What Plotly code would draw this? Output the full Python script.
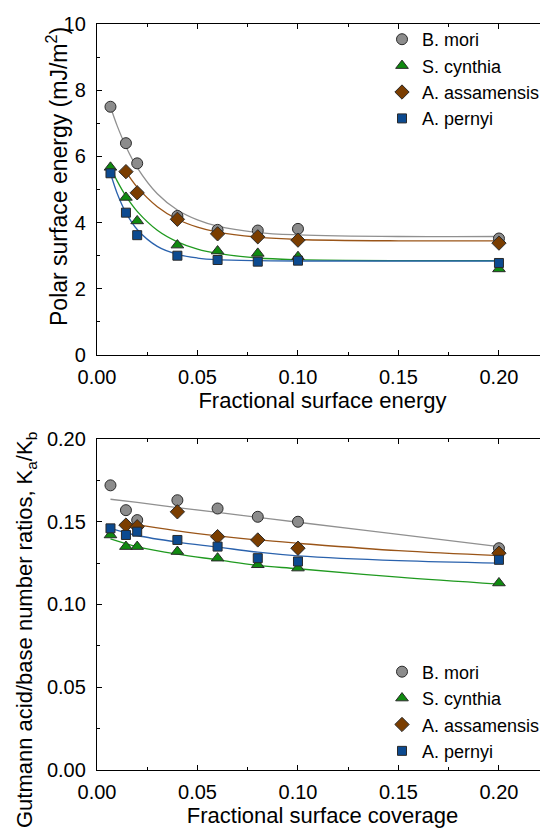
import plotly.graph_objects as go

# ---------------- data ----------------
series_names = ["B. mori", "S. cynthia", "A. assamensis", "A. pernyi"]

x_pts = [0.0067, 0.0144, 0.02, 0.04, 0.06, 0.08, 0.10, 0.20]
x_assam = [0.0144, 0.02, 0.04, 0.06, 0.08, 0.10, 0.20]

# top panel: polar surface energy (mJ/m2)
pse_mori = [7.50, 6.40, 5.79, 4.20, 3.78, 3.76, 3.81, 3.52]
pse_cynthia = [5.67, 4.76, 4.05, 3.32, 3.14, 3.07, 2.97, 2.60]
pse_assam = [5.54, 4.90, 4.10, 3.66, 3.57, 3.47, 3.38]
pse_pernyi = [5.49, 4.30, 3.62, 3.00, 2.87, 2.82, 2.85, 2.78]

# top panel fitted curves
fit_top_x = [0.0067, 0.01, 0.0144, 0.02, 0.03, 0.04, 0.05, 0.06, 0.08, 0.10, 0.15, 0.20]
fit_top_x_assam = [0.0144, 0.02, 0.03, 0.04, 0.05, 0.06, 0.08, 0.10, 0.15, 0.20]
fit_top_mori = [7.50, 6.93, 6.30, 5.66, 4.87, 4.38, 4.08, 3.89, 3.70, 3.63, 3.58, 3.58]
fit_top_cynthia = [5.67, 5.26, 4.80, 4.34, 3.77, 3.42, 3.20, 3.07, 2.93, 2.88, 2.85, 2.85]
fit_top_assam = [5.54, 5.07, 4.48, 4.10, 3.86, 3.71, 3.56, 3.49, 3.45, 3.45]
fit_top_pernyi = [5.49, 4.89, 4.30, 3.79, 3.28, 3.04, 2.93, 2.88, 2.85, 2.84, 2.84, 2.84]

# bottom panel: Gutmann acid/base number ratios Ka/Kb
kab_mori = [0.172, 0.157, 0.151, 0.163, 0.158, 0.153, 0.150, 0.134]
kab_cynthia = [0.142, 0.135, 0.135, 0.132, 0.128, 0.124, 0.122, 0.113]
kab_assam = [0.148, 0.147, 0.156, 0.141, 0.139, 0.134, 0.131]
kab_pernyi = [0.146, 0.142, 0.144, 0.139, 0.135, 0.128, 0.126, 0.127]

# bottom panel fitted curves
fit_bot_x = [0.0067, 0.02, 0.04, 0.06, 0.08, 0.10, 0.15, 0.20]
fit_bot_x_assam = [0.0144, 0.02, 0.04, 0.06, 0.08, 0.10, 0.15, 0.20]
fit_bot_mori = [0.1636, 0.1617, 0.1586, 0.1556, 0.1527, 0.1497, 0.1424, 0.1350]
fit_bot_cynthia = [0.1397, 0.1350, 0.1304, 0.1270, 0.1236, 0.1216, 0.1165, 0.1123]
fit_bot_assam = [0.1495, 0.1482, 0.1445, 0.1415, 0.1390, 0.1370, 0.1325, 0.1295]
fit_bot_pernyi = [0.1460, 0.1417, 0.1377, 0.1347, 0.1316, 0.1294, 0.1265, 0.1250]

x_ticks = [0.00, 0.05, 0.10, 0.15, 0.20]

# ---------------- styles ----------------
FONT = "Arial, Liberation Sans, sans-serif"
marker_fill = ["#8c8c8c", "#108a10", "#7a3d00", "#0c4a90"]
line_col = ["#909090", "#1f9a1f", "#9a5518", "#2a62ad"]
symbols = ["circle", "triangle-up", "diamond", "square"]
sizes = [11, 11, 11, 9]

fig = go.Figure()

top_data = [(x_pts, pse_mori), (x_pts, pse_cynthia), (x_assam, pse_assam), (x_pts, pse_pernyi)]
top_fits = [(fit_top_x, fit_top_mori), (fit_top_x, fit_top_cynthia),
            (fit_top_x_assam, fit_top_assam), (fit_top_x, fit_top_pernyi)]
bot_data = [(x_pts, kab_mori), (x_pts, kab_cynthia), (x_assam, kab_assam), (x_pts, kab_pernyi)]
bot_fits = [(fit_bot_x, fit_bot_mori), (fit_bot_x, fit_bot_cynthia),
            (fit_bot_x_assam, fit_bot_assam), (fit_bot_x, fit_bot_pernyi)]

for i in range(4):
    fig.add_trace(go.Scatter(x=top_fits[i][0], y=top_fits[i][1], mode="lines",
                             line=dict(color=line_col[i], width=1.3, shape="spline"),
                             showlegend=False, hoverinfo="skip", xaxis="x", yaxis="y"))
    fig.add_trace(go.Scatter(x=bot_fits[i][0], y=bot_fits[i][1], mode="lines",
                             line=dict(color=line_col[i], width=1.3, shape="spline"),
                             showlegend=False, hoverinfo="skip", xaxis="x2", yaxis="y2"))

for i in range(4):
    fig.add_trace(go.Scatter(x=top_data[i][0], y=top_data[i][1], mode="markers",
                             name=series_names[i],
                             marker=dict(symbol=symbols[i], size=sizes[i], color=marker_fill[i],
                                         line=dict(color="#2a2a2a", width=1)),
                             xaxis="x", yaxis="y", legend="legend"))
for i in range(4):
    fig.add_trace(go.Scatter(x=bot_data[i][0], y=bot_data[i][1], mode="markers",
                             name=series_names[i],
                             marker=dict(symbol=symbols[i], size=sizes[i], color=marker_fill[i],
                                         line=dict(color="#2a2a2a", width=1)),
                             xaxis="x2", yaxis="y2", legend="legend2"))

xcommon = dict(range=[0, 0.2244], tickvals=x_ticks, tickformat=".2f",
               ticks="inside", ticklen=5, tickwidth=1.2, tickcolor="black",
               showline=True, linecolor="black", linewidth=1.3, mirror="ticks",
               showgrid=False, zeroline=False,
               minor=dict(dtick=0.025, ticks="inside", ticklen=3, tickcolor="black", tickwidth=1),
               tickfont=dict(family=FONT, size=20, color="black"),
               ticklabelstandoff=4)
ycommon = dict(ticks="inside", ticklen=5, tickwidth=1.2, tickcolor="black",
               showline=True, linecolor="black", linewidth=1.3, mirror=False,
               showgrid=False, zeroline=False,
               tickfont=dict(family=FONT, size=20, color="black"),
               ticklabelstandoff=6)

# page body has an 8px margin: the figure is sized so that it fills the 548x830 window
fig.update_layout(
    width=540, height=822,
    margin=dict(l=89, r=0, t=16, b=60),
    plot_bgcolor="white", paper_bgcolor="white",
    font=dict(family=FONT, color="black"),
    xaxis=dict(**xcommon, domain=[0, 1], anchor="y",
               title=dict(text="Fractional surface energy", font=dict(family=FONT, size=22), standoff=5)),
    yaxis=dict(**ycommon, domain=[0.5563, 1], anchor="x", range=[0, 10], dtick=2,
               minor=dict(dtick=1, ticks="inside", ticklen=3, tickcolor="black", tickwidth=1)),
    xaxis2=dict(**xcommon, domain=[0, 1], anchor="y2",
                title=dict(text="Fractional surface coverage", font=dict(family=FONT, size=22), standoff=5)),
    yaxis2=dict(**ycommon, domain=[0, 0.4437], anchor="x2", range=[0, 0.2], dtick=0.05,
                tickformat=".2f",
                minor=dict(dtick=0.025, ticks="inside", ticklen=3, tickcolor="black", tickwidth=1)),
    legend=dict(x=(382 - 97) / 451, y=1.004, xanchor="left", yanchor="top",
                font=dict(family=FONT, size=18), bgcolor="rgba(0,0,0,0)", tracegroupgap=0),
    legend2=dict(x=(382 - 97) / 451, y=0.1562, xanchor="left", yanchor="top",
                 font=dict(family=FONT, size=18), bgcolor="rgba(0,0,0,0)", tracegroupgap=0),
    annotations=[
        dict(text="Polar surface energy (mJ/m<sup>2</sup>)", textangle=-90,
             xref="paper", yref="paper", x=0, y=(770 - 177) / 746, xshift=-40,
             xanchor="center", yanchor="middle", showarrow=False,
             font=dict(family=FONT, size=23)),
        dict(text="Gutmann acid/base number ratios, K<sub>a</sub>/K<sub>b</sub>", textangle=-90,
             xref="paper", yref="paper", x=0, y=(770 - 630) / 746, xshift=-71,
             xanchor="center", yanchor="middle", showarrow=False,
             font=dict(family=FONT, size=22)),
    ],
)

fig.write_html("out.html")
